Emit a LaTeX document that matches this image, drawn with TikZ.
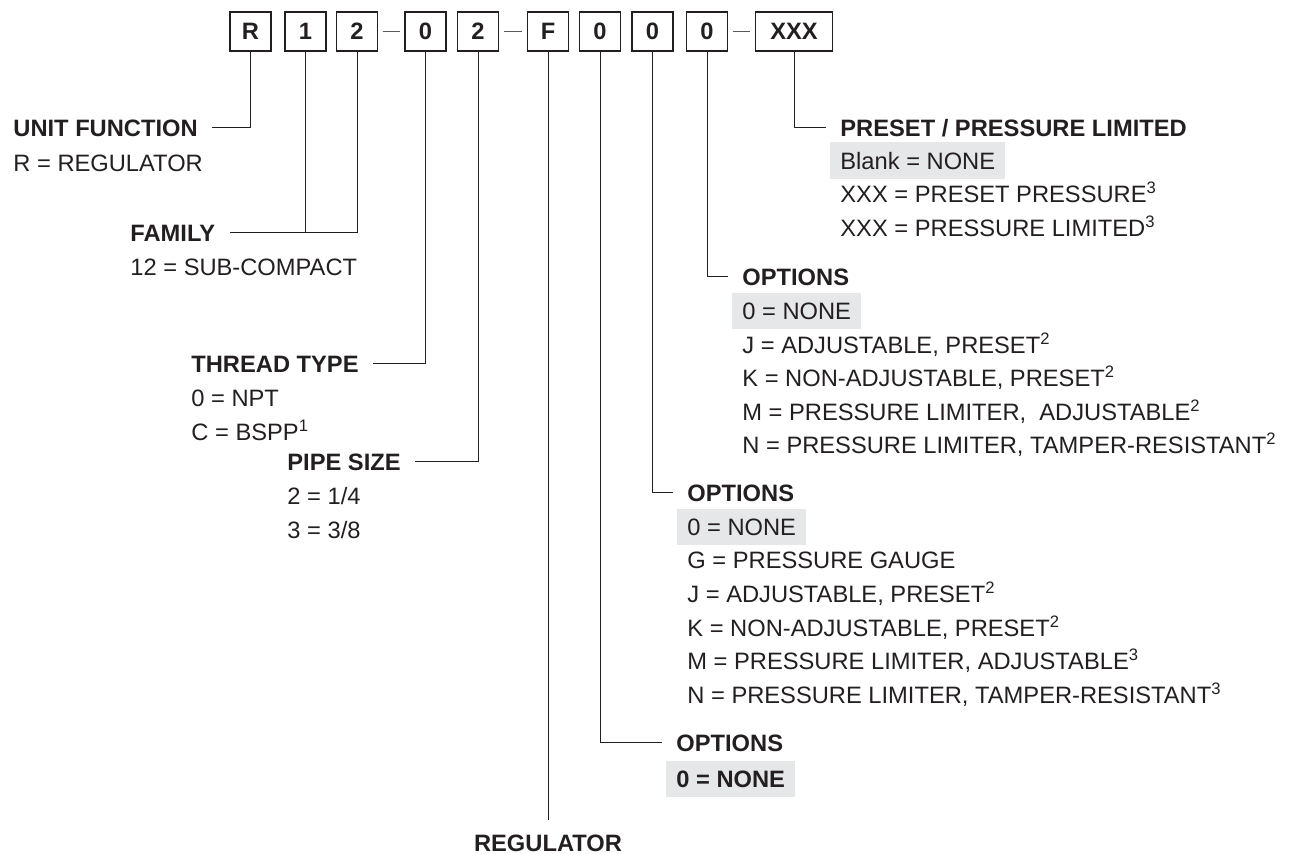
\documentclass[tikz,border=0pt]{standalone}
\usepackage{fontspec}
\setmainfont{Liberation Sans}
\usepackage{xcolor}
\usepackage{tikz}
\usetikzlibrary{positioning}

\definecolor{ink}{HTML}{231F20}
\definecolor{shade}{HTML}{E6E7E8}

\begin{document}
\begin{tikzpicture}[
    x=0.5pt, y=-0.5pt,
    every node/.style={
        inner sep=0pt, text=ink,
        font=\fontsize{11.85}{13}\selectfont
    },
    digit/.style={
        rectangle, draw=ink, line width=0.65pt,
        minimum width=20.5pt, minimum height=19.5pt,
        font=\fontsize{11.85}{13}\selectfont\bfseries
    },
    head/.style={anchor=base west, font=\fontsize{11.85}{13}\selectfont\bfseries},
    item/.style={anchor=base west},
    pick/.style={anchor=base west, fill=shade, inner xsep=5pt, inner ysep=4.9pt},
    wire/.style={draw=ink, line width=0.5pt},
    lead/.style={wire, shorten >=7pt},
    sep/.style={draw=ink!75, line width=0.5pt, shorten <=2.3pt, shorten >=2.3pt},
]
\useasboundingbox (0,0) rectangle (1293,853);

% Model code boxes
\node[digit] (bR)  at (250.5,31.5) {R};
\node[digit] (b1)  at (305.5,31.5) {1};
\node[digit] (b2)  at (357,31.5)   {2};
\node[digit] (bT)  at (425.5,31.5) {0};
\node[digit] (bP)  at (478,31.5)   {2};
\node[digit] (bF)  at (548,31.5)   {F};
\node[digit] (bA)  at (600,31.5)   {0};
\node[digit] (bB)  at (652.5,31.5) {0};
\node[digit] (bC)  at (707,31.5)   {0};
\node[digit, minimum width=38.5pt] (bX) at (794,31.5) {XXX};

% Dashes between groups
\draw[sep] (b2.east) -- (bT.west);
\draw[sep] (bP.east) -- (bF.west);
\draw[sep] (bC.east) -- (bX.west);

%% Left side
\node[head] (unit)   at (13,136)  {UNIT FUNCTION};
\node[item] (unitR)  at (13,171)  {R = REGULATOR};

\node[head] (fam)    at (130,241) {FAMILY};
\node[item] (famS)   at (130,275) {12 = SUB-COMPACT};

\node[head] (thread) at (191,372) {THREAD TYPE};
\node[item] (thrN)   at (191,406) {0 = NPT};
\node[item] (thrC)   at (191,440) {C = BSPP\textsuperscript{1}};

\node[head] (pipe)   at (287,470) {PIPE SIZE};
\node[item] (pipe2)  at (287,504) {2 = 1/4};
\node[item] (pipe3)  at (287,538) {3 = 3/8};

%% Right side
\node[head] (pre)    at (840,136) {PRESET / PRESSURE LIMITED};
\node[pick] (preB)   at (830,169) {Blank = NONE};
\node[item] (preP)   at (840,202) {XXX = PRESET PRESSURE\textsuperscript{3}};
\node[item] (preL)   at (840,236) {XXX = PRESSURE LIMITED\textsuperscript{3}};

\node[head] (optC)   at (742,285) {OPTIONS};
\node[pick] (optC0)  at (732,319) {0 = NONE};
\node[item] (optCJ)  at (742,353) {J = ADJUSTABLE, PRESET\textsuperscript{2}};
\node[item] (optCK)  at (742,386) {K = NON-ADJUSTABLE, PRESET\textsuperscript{2}};
\node[item] (optCM)  at (742,420) {M = PRESSURE LIMITER,~ ADJUSTABLE\textsuperscript{2}};
\node[item] (optCN)  at (742,453) {N = PRESSURE LIMITER, TAMPER-RESISTANT\textsuperscript{2}};

\node[head] (optB)   at (687,501) {OPTIONS};
\node[pick] (optB0)  at (677,535) {0 = NONE};
\node[item] (optBG)  at (687,568) {G = PRESSURE GAUGE};
\node[item] (optBJ)  at (687,602) {J = ADJUSTABLE, PRESET\textsuperscript{2}};
\node[item] (optBK)  at (687,636) {K = NON-ADJUSTABLE, PRESET\textsuperscript{2}};
\node[item] (optBM)  at (687,669) {M = PRESSURE LIMITER, ADJUSTABLE\textsuperscript{3}};
\node[item] (optBN)  at (687,703) {N = PRESSURE LIMITER, TAMPER-RESISTANT\textsuperscript{3}};

\node[head] (optA)   at (676,751) {OPTIONS};
\node[pick, font=\fontsize{11.85}{13}\selectfont\bfseries] (optA0) at (666,787) {0 = NONE};

\node[head, anchor=base] (reg) at (548,851) {REGULATOR};

%% Leaders
\draw[lead] (bR.south) |- (unit.east);
\draw[wire] (b1.south) -- (b1.south |- fam.east);
\draw[lead] (b2.south) |- (fam.east);
\draw[lead] (bT.south) |- (thread.east);
\draw[lead] (bP.south) |- (pipe.east);
\draw[lead] (bF.south) -- (reg.north);
\draw[lead] (bA.south) |- (optA.west);
\draw[lead] (bB.south) |- (optB.west);
\draw[lead] (bC.south) |- (optC.west);
\draw[lead] (bX.south) |- (pre.west);

\end{tikzpicture}
\end{document}
